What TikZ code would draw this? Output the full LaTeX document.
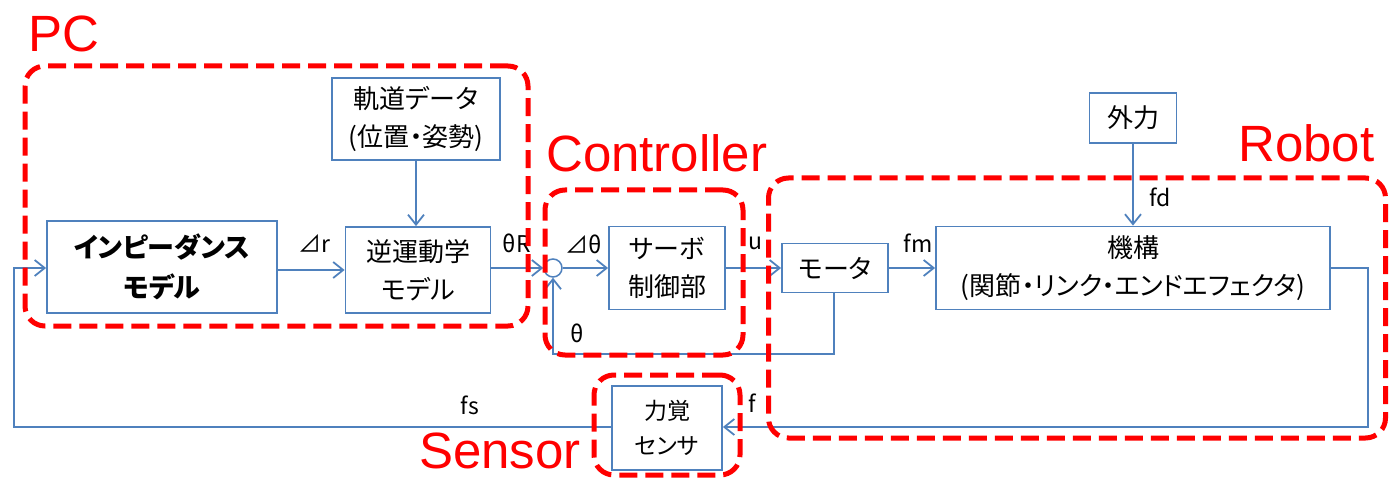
\documentclass[tikz,border=0pt]{standalone}
\usepackage{fontspec}
\setmainfont{Noto Sans CJK JP}[RawFeature=+palt]
\newfontfamily\latinsans{Liberation Sans}
\usetikzlibrary{arrows.meta}
\definecolor{bl}{RGB}{79,129,189}
\definecolor{rd}{RGB}{255,0,0}
\begin{document}
\begin{tikzpicture}[x=1pt,y=-1pt,
  blk/.style={draw=bl, line width=1.8pt, fill=white, align=center, inner sep=0pt, font=\fontsize{26}{38}\selectfont},
  lab/.style={font=\fontsize{23}{27}\selectfont, inner sep=0pt},
  grp/.style={draw=rd, line width=5pt, dash pattern=on 18pt off 8pt, rounded corners=20pt, inner sep=0pt},
  grplab/.style={text=rd, font=\latinsans\fontsize{51}{51}\selectfont, inner sep=0pt, anchor=base west},
  ln/.style={draw=bl, line width=1.8pt},
  arr/.style={draw=bl, line width=1.8pt, -{Straight Barb[length=10pt,width=16pt]}}]
\useasboundingbox (0,0) rectangle (1389,478);
% blocks
\node[blk, minimum width=230pt, minimum height=92pt, font=\bfseries\fontsize{27}{40}\selectfont] (imp) at (162,267) {インピーダンス\\モデル};
\node[blk, minimum width=145pt, minimum height=86pt] (ik) at (418,270) {逆運動学\\モデル};
\node[blk, minimum width=168pt, minimum height=82pt] (traj) at (416,119) {軌道データ\\(位置・姿勢)};
\node[circle, draw=bl, line width=1.5pt, minimum size=18pt, inner sep=0pt] (sum) at (553,268) {};
\node[blk, minimum width=116pt, minimum height=83pt] (servo) at (667,268) {サーボ\\制御部};
\node[blk, minimum width=106pt, minimum height=49pt] (motor) at (835,268) {モータ};
\node[blk, minimum width=394pt, minimum height=83pt] (mech) at (1133,268) {機構\\(関節・リンク・エンドエフェクタ)};
\node[blk, minimum width=87pt, minimum height=50pt] (ext) at (1133,118) {外力};
\node[blk, minimum width=110pt, minimum height=84pt, font=\fontsize{23}{35}\selectfont] (sens) at (667,428) {力覚\\センサ};
% connectors
\coordinate (c1) at (14,427);
\coordinate (c2) at (14,268);
\coordinate (c3) at (834,354);
\coordinate (c4) at (553,354);
\coordinate (c5) at (1368,268);
\coordinate (c6) at (1368,427);
\draw[arr] (sens.west |- c1) -- (c1) -- (c2) -- (imp.west |- c2);
\draw[arr] (imp.east |- ik.west) -- (ik.west);
\draw[arr] (traj.south |- traj.south) -- (traj.south |- ik.north);
\draw[arr] (ik.east |- sum.west) -- (sum.west);
\draw[arr] (sum.east) -- (servo.west |- sum.east);
\draw[arr] (servo.east) -- (motor.west);
\draw[arr] (motor.east) -- (mech.west);
\draw[arr] (motor.south -| c3) -- (c3) -- (c4) -- (sum.south);
\draw[arr] (ext.south) -- (mech.north);
\draw[arr] (mech.east |- c5) -- (c5) -- (c6) -- (sens.east |- c6);
% labels
\node[lab] (lr) at (314,244) {⊿r};
\node[lab] (lthr) at (517,243) {θR};
\node[lab] (ldth) at (584,244) {⊿θ};
\node[lab] (lu) at (755,243) {u};
\node[lab] (lfm) at (918,243) {fm};
\node[lab] (lfd) at (1160,197) {fd};
\node[lab] (lth) at (577,333) {θ};
\node[lab] (lfs) at (470,405) {fs};
\node[lab] (lf) at (752,403) {f};
% groups
\node[grp, minimum width=503pt, minimum height=260pt] (gpc) at (276.5,196) {};
\node[grp, minimum width=198pt, minimum height=165pt] (gctl) at (644,272.5) {};
\node[grp, minimum width=617pt, minimum height=260pt] (grob) at (1077,308) {};
\node[grp, minimum width=146pt, minimum height=100pt] (gsen) at (667,425) {};
\node[grplab] (tpc) at (28,52) {PC};
\node[grplab] (tctl) at (546,172) {Controller};
\node[grplab] (trob) at (1238,162) {Robot};
\node[grplab] (tsen) at (419,468) {Sensor};
\end{tikzpicture}
\end{document}
